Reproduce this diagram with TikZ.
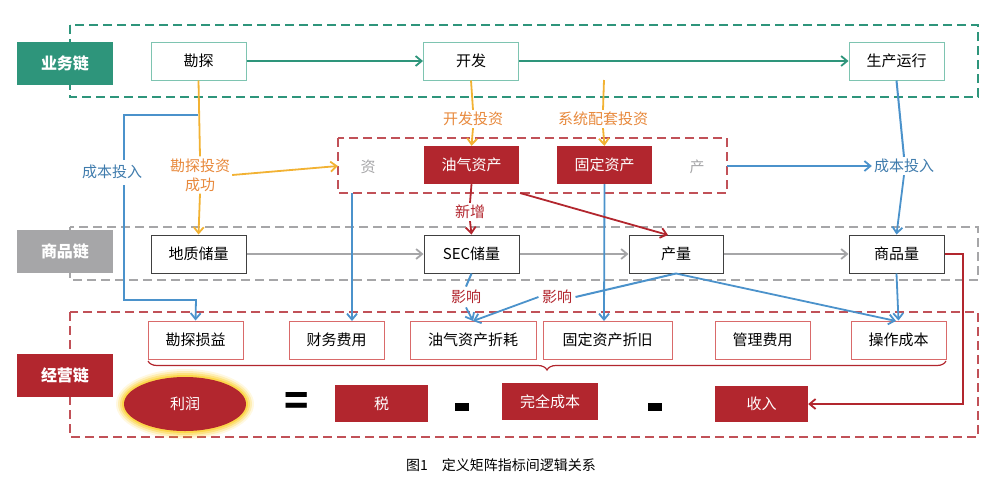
\documentclass[tikz,border=0pt]{standalone}
\usepackage{fontspec}
\setmainfont{Noto Sans CJK SC}
\usetikzlibrary{arrows.meta,decorations.pathreplacing,shapes.geometric}
\definecolor{teal1}{HTML}{2E957B}
\definecolor{teall}{HTML}{7EC4B1}
\definecolor{red1}{HTML}{B2262E}
\definecolor{redl}{HTML}{D96A6A}
\definecolor{or1}{HTML}{F2B233}
\definecolor{ort}{HTML}{E8893C}
\definecolor{blu}{HTML}{4B92CB}
\definecolor{gr1}{HTML}{A6A6A8}
\begin{document}
\begin{tikzpicture}[x=1pt,y=-1pt,
 font=\fontsize{15}{16}\selectfont,
 lab/.style={minimum width=96pt,minimum height=43pt,text=white,font=\fontsize{16}{17}\selectfont\bfseries},
 gbox/.style={draw=teall,line width=1pt,minimum width=95pt,minimum height=38pt,fill=white},
 kbox/.style={draw=black!75,line width=1pt,minimum width=95pt,minimum height=38pt,fill=white},
 rbox/.style={draw=redl,line width=1pt,minimum height=38pt,fill=white},
 fbox/.style={fill=red1,text=white,minimum height=38pt},
 dbox/.style={dashed,dash pattern=on 9pt off 5pt,line width=1.6pt},
 ar/.style={-{Straight Barb[length=6pt,width=10pt]},line width=1.8pt},
 bl/.style={blu,line width=2pt},
 tl/.style={fill=white,inner sep=2pt}]
\useasboundingbox (0,0) rectangle (1002,480);
% containers
\draw[dbox,teal1] (70,25) rectangle (978,97);
\draw[dbox,gr1] (70,227) rectangle (978,280);
\draw[dbox,red1!80] (70,312) rectangle (978,437);
\draw[dbox,red1!80] (338,138) rectangle (727,193);
\node[lab,fill=teal1] (L1) at (65,63.5) {业务链};
\node[lab,fill=gr1] (L2) at (65,251.5) {商品链};
\node[lab,fill=red1] (L3) at (65,375.5) {经营链};
% row1
\node[gbox] (kt) at (198.5,61) {勘探};
\node[gbox] (kf) at (471,61) {开发};
\node[gbox] (sc) at (896.5,61) {生产运行};
% assets
\node[text=gr1] (zi) at (368,167) {资};
\node[fbox,minimum width=95pt] (yq) at (471.5,165) {油气资产};
\node[fbox,minimum width=95pt] (gd) at (604.5,165) {固定资产};
\node[text=gr1] (chan) at (697,167) {产};
% row2
\node[kbox] (dz) at (198.5,254) {地质储量};
\node[kbox] (sec) at (471.5,254) {SEC储量};
\node[kbox,minimum width=94pt] (cl) at (676,254) {产量};
\node[kbox] (sp) at (896.5,254) {商品量};
% row3
\node[rbox,minimum width=95pt] (c1) at (195.5,340) {勘探损益};
\node[rbox,minimum width=95pt] (c2) at (336.5,340) {财务费用};
\node[rbox,minimum width=126pt] (c3) at (473,340) {油气资产折耗};
\node[rbox,minimum width=129pt] (c4) at (607.5,340) {固定资产折旧};
\node[rbox,minimum width=95pt] (c5) at (762.5,340) {管理费用};
\node[rbox,minimum width=95pt] (c6) at (898.5,340) {操作成本};
% formula
\foreach \r/\o in {8/0.12,6/0.2,4/0.3,2/0.45}
  \fill[yellow!60!orange,opacity=\o] (185,404) ellipse ({61+\r} and {27+\r});
\node[ellipse,fill=red1,text=white,minimum width=122pt,minimum height=54pt,inner sep=0pt] (lr) at (185,404) {利润};
\node[font=\fontsize{40}{40}\selectfont\bfseries] (eq) at (297,404) {=};
\node[fbox,minimum width=93pt,minimum height=37pt] (tax) at (381.5,403.5) {税};
\fill (455,403) rectangle (469,411);
\node[fbox,minimum width=96pt,minimum height=37pt] (wq) at (550,401.5) {完全成本};
\fill (648,403) rectangle (662,411);
\node[fbox,minimum width=93pt,minimum height=36pt] (sr) at (761.5,404) {收入};
\draw[decorate,decoration={brace,mirror,amplitude=9pt},line width=1.2pt,red1] (148,361) -- (946,361);
% labels
\node[text=ort,tl] (t1) at (473,119) {开发投资};
\node[text=ort,tl] (t2) at (603,119) {系统配套投资};
\node[text=ort,tl,align=center,font=\fontsize{15}{19}\selectfont] (t3) at (200,175) {勘探投资\\成功};
\node[text=blu!85!black,tl] (t4) at (112,172) {成本投入};
\node[text=blu!85!black,tl] (t5) at (904,166) {成本投入};
\node[text=red1,tl] (t6) at (470,212) {新增};
% green
\draw[ar,teal1] (kt) -- (kf);
\draw[ar,teal1] (kf) -- (sc);
% gray
\draw[ar,gr1] (dz) -- (sec);
\draw[ar,gr1] (sec) -- (cl);
\draw[ar,gr1] (cl) -- (sp);
% orange
\draw[or1,line width=1.8pt] (kt.south) -- (t3.north);
\draw[ar,or1] (t3.south) -- (dz.north);
\draw[ar,or1] (t3.east) -- (338,166);
\draw[or1,line width=1.8pt] (kf.south) -- (t1.north);
\draw[ar,or1] (t1.south) -- (yq.north);
\draw[or1,line width=1.8pt] (604,80) -- (t2.north);
\draw[ar,or1] (t2.south) -- (gd.north);
% blue
\draw[bl] (198,115) -- (124,115) -- (124,160);
\draw[bl,ar] (124,185) -- (124,300) -- (196,300) -- (c1.north);
\draw[bl,ar] (352,193) -- (352,321);
\draw[bl,ar] (gd.south) -- (604,321);
\draw[bl,ar] (727,166) -- (t5.west);
\draw[bl] (sc.south) -- (t5.north);
\draw[bl,ar] (t5.south) -- (sp.north);
\draw[bl,ar] (sp.south) -- (c6.north);
\draw[bl,ar] (cl.south) -- (896,321);
\coordinate (ym) at (473,321);
\node[text=red1] (i1) at (466,297) {影响};
\node[text=red1] (i2) at (557,297) {影响};
\draw[bl] (sec.south) -- (i1.north);
\draw[bl,ar] (i1.south) -- (ym);
\draw[bl] (cl.south) -- (i2.east);
\draw[bl,ar] (i2.west) -- (ym);
% red
\draw[red1,line width=1.8pt] (yq.south) -- (t6.north);
\draw[ar,red1] (t6.south) -- (sec.north);
\draw[ar,red1] (520,193) -- (668,235);
\draw[ar,red1] (sp.east) -- (963,254) -- (963,404) -- (sr.east);
% caption
\node[font=\fontsize{14}{15}\selectfont] (cap) at (501,465) {图1\quad 定义矩阵指标间逻辑关系};
\end{tikzpicture}
\end{document}
